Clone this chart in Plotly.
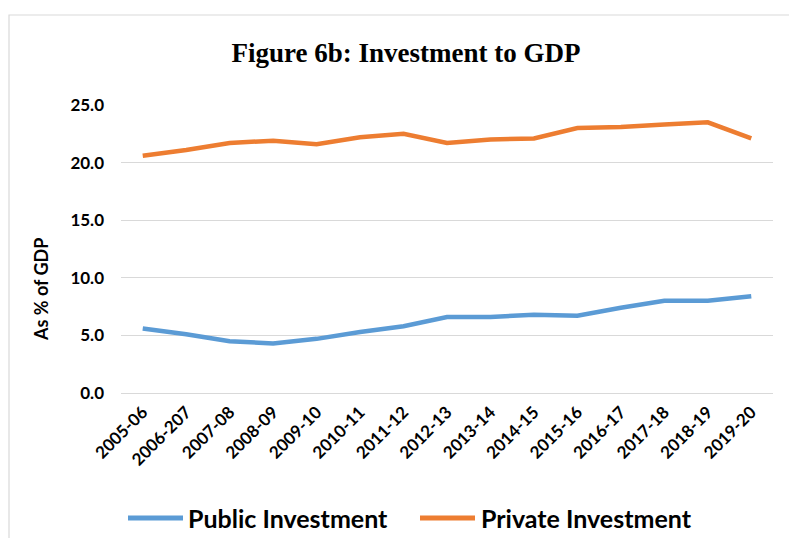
import plotly.graph_objects as go

# Fiscal years on the category axis
years = ["2005-06", "2006-207", "2007-08", "2008-09", "2009-10", "2010-11",
         "2011-12", "2012-13", "2013-14", "2014-15", "2015-16", "2016-17",
         "2017-18", "2018-19", "2019-20"]

# Investment as % of GDP
public_investment = [5.6, 5.1, 4.5, 4.3, 4.7, 5.3, 5.8, 6.6, 6.6, 6.8, 6.7, 7.4, 8.0, 8.0, 8.4]
private_investment = [20.6, 21.1, 21.7, 21.9, 21.6, 22.2, 22.5, 21.7, 22.0, 22.1, 23.0, 23.1, 23.3, 23.5, 22.1]

y_ticks = [0, 5, 10, 15, 20, 25]
y_tick_labels = ["0.0", "5.0", "10.0", "15.0", "20.0", "25.0"]

series_names = ["Public Investment", "Private Investment"]
series_colors = ["#5b9bd5", "#ed7d31"]

W, H = 789, 538
ML, MR, MT, MB = 121, 16, 105, 145
PW, PH = W - ML - MR, H - MT - MB


def px_x(px):
    return (px - ML) / PW


def px_y(py):
    return (H - MB - py) / PH


FONT = "Lato, 'Open Sans', sans-serif"

fig = go.Figure()
for name, vals, col in zip(series_names, [public_investment, private_investment], series_colors):
    fig.add_trace(go.Scatter(
        x=list(range(len(years))), y=vals, mode="lines", name=name,
        line=dict(color=col, width=4.5), showlegend=False,
    ))

fig.update_layout(
    width=W, height=H,
    margin=dict(l=ML, r=MR, t=MT, b=MB),
    paper_bgcolor="white", plot_bgcolor="white",
    title=dict(
        text="<b>Figure 6b: Investment to GDP</b>",
        font=dict(family="'Liberation Serif', 'Times New Roman', serif", size=27, color="black"),
        xref="container", yref="container",
        x=406 / W, xanchor="center", y=1 - 53 / H, yanchor="middle",
    ),
    xaxis=dict(
        range=[-0.5, len(years) - 0.5],
        tickmode="array", tickvals=list(range(len(years))), ticktext=years,
        tickangle=-45, showgrid=False, zeroline=False, showline=False,
        ticks="", ticklabelstandoff=5,
        tickfont=dict(family=FONT, size=17, color="black", weight="bold"),
    ),
    yaxis=dict(
        range=[0, 25], tickmode="array", tickvals=y_ticks, ticktext=y_tick_labels,
        showgrid=True, gridcolor="#d9d9d9", gridwidth=1,
        zeroline=True, zerolinecolor="#d9d9d9", zerolinewidth=1,
        showline=False, ticks="", ticklabelstandoff=16,
        tickfont=dict(family=FONT, size=17, color="black", weight="bold"),
    ),
)

# Chart frame
fig.add_shape(type="rect", xref="paper", yref="paper",
              x0=px_x(9), x1=px_x(W + 20), y0=px_y(15), y1=px_y(H + 20),
              line=dict(color="#d9d9d9", width=1.2), fillcolor="rgba(0,0,0,0)", layer="below")

# Vertical axis title
fig.add_annotation(
    text="<b>As % of GDP</b>", textangle=-90, showarrow=False,
    xref="paper", yref="paper", x=px_x(41), y=px_y(290),
    xanchor="center", yanchor="middle",
    font=dict(family=FONT, size=18, color="black"),
)

# Legend along the bottom
legend_items = [(128, 183, 186), (420, 475, 479)]
for (lx0, lx1, tx), name, col in zip(legend_items, series_names, series_colors):
    fig.add_shape(type="line", xref="paper", yref="paper",
                  x0=px_x(lx0), x1=px_x(lx1), y0=px_y(518), y1=px_y(518),
                  line=dict(color=col, width=5))
    fig.add_annotation(
        text="<b>%s</b>" % name, showarrow=False,
        xref="paper", yref="paper", x=px_x(tx), y=px_y(518),
        xanchor="left", yanchor="middle",
        font=dict(family=FONT, size=25, color="black"),
    )

fig.write_html("out.html")
